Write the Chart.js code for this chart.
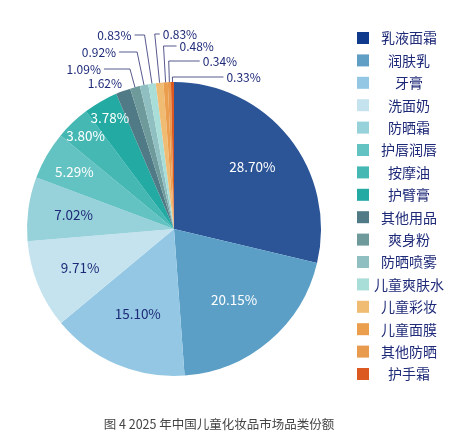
<!DOCTYPE html>
<html><head><meta charset="utf-8">
<script src="https://cdn.jsdelivr.net/npm/chart.js@4"></script>
<style>html,body{margin:0;padding:0;background:#fff;}canvas{display:block;}</style>
</head><body>
<canvas id="c" width="470" height="443"></canvas>
<script>
const categories = ['乳液面霜','润肤乳','牙膏','洗面奶','防晒霜','护唇润唇','按摩油','护臂膏','其他用品','爽身粉','防晒喷雾','儿童爽肤水','儿童彩妆','儿童面膜','其他防晒','护手霜'];
const shares = [28.70, 20.15, 15.10, 9.71, 7.02, 5.29, 3.80, 3.78, 1.62, 1.09, 0.92, 0.83, 0.83, 0.48, 0.34, 0.33];
const sliceColors = ['#2c5598','#5b9fc7','#93c7e4','#c5e3ee','#97d1da','#63c2c2','#45b8b4','#22aaa3','#4f7a86','#6f9a9c','#8fbfc0','#a9ddd8','#f0bb72','#ec9e4f','#e89a4f','#dc5a22'];
const legendColors = ['#103a8c','#5f9fc6','#93c7e4','#c5e3ee','#97d1da','#63c2c2','#45b8b4','#22aaa3','#4f7a86','#6f9a9c','#8fbfc0','#a9ddd8','#f0bb72','#ec9e4f','#e89a4f','#dc5a22'];
const chartTitle = '图 4 2025 年中国儿童化妆品市场品类份额';

const FONT = '"Noto Sans CJK SC","Noto Sans",sans-serif';
const NAVY = '#1e2a78';
const darkInside = new Set([2,3,4]);
// callout styling for small slices: rise = px above the pie top, len = horizontal leader length, side -1 left / 1 right
const callouts = {
  8:{rise:-1,len:0,side:-1,noLine:true},
  9:{rise:13,len:26,side:-1},
  10:{rise:30,len:18,side:-1},
  11:{rise:47,len:10,side:-1},
  12:{rise:48,len:5,side:1},
  13:{rise:36,len:13,side:1},
  14:{rise:21,len:31,side:1},
  15:{rise:5,len:51,side:1}
};

function insideFraction(v){
  if (v >= 25) return 0.68;
  if (v >= 10) return 0.63;
  if (v >= 7) return 0.69;
  return 0.68 + (7 - v)*0.06;
}

const labelPlugin = {
  id:'labels',
  afterDatasetsDraw(chart){
    const ctx = chart.ctx;
    const meta = chart.getDatasetMeta(0);
    ctx.save();
    meta.data.forEach((arc,i)=>{
      const v = shares[i];
      const mid = (arc.startAngle+arc.endAngle)/2;
      const R = arc.outerRadius, cx = arc.x, cy = arc.y;
      const txt = v.toFixed(2)+'%';
      if (!callouts[i]) {
        const f = insideFraction(v);
        ctx.font = '13.5px '+FONT;
        ctx.fillStyle = darkInside.has(i) ? NAVY : '#ffffff';
        ctx.textAlign = 'center'; ctx.textBaseline = 'middle';
        ctx.fillText(txt, cx + Math.cos(mid)*R*f, cy + Math.sin(mid)*R*f);
      } else {
        const c = callouts[i];
        const ax = cx + Math.cos(mid)*R, ay = cy + Math.sin(mid)*R;
        const ly = cy - R - c.rise;
        const t = (ly - cy)/Math.sin(mid);
        const ex = cx + Math.cos(mid)*t;
        const hx = ex + c.side*c.len;
        if (!c.noLine) {
          ctx.strokeStyle = '#2b2f6e'; ctx.lineWidth = 0.8;
          ctx.beginPath(); ctx.moveTo(ax,ay); ctx.lineTo(ex,ly); ctx.lineTo(hx,ly); ctx.stroke();
        }
        ctx.font = '12px '+FONT;
        ctx.fillStyle = NAVY;
        ctx.textBaseline = 'middle';
        ctx.textAlign = c.side < 0 ? 'right' : 'left';
        const tx = c.noLine ? ax - 1 : hx + c.side*3;
        ctx.fillText(txt, tx, ly);
      }
    });
    ctx.restore();
  },
  afterDraw(chart){
    const ctx = chart.ctx;
    ctx.save();
    // legend
    categories.forEach((name,i)=>{
      const y = 38 + i*22.4;
      ctx.fillStyle = legendColors[i];
      ctx.fillRect(357, y-6, 12, 12);
      ctx.font = '14px '+FONT;
      ctx.fillStyle = NAVY;
      ctx.textAlign = 'center'; ctx.textBaseline = 'middle';
      ctx.fillText(name, 409, y);
    });
    // caption
    ctx.font = '12.5px '+FONT;
    ctx.fillStyle = '#444444';
    ctx.textAlign = 'center'; ctx.textBaseline = 'middle';
    ctx.fillText(chartTitle, 219, 424);
    ctx.restore();
  }
};

new Chart(document.getElementById('c'), {
  type:'pie',
  data:{ labels:categories, datasets:[{ data:shares, backgroundColor:sliceColors, borderWidth:0 }] },
  options:{
    responsive:false, animation:false,
    layout:{ padding:{ left:27, right:149, top:82, bottom:67 } },
    plugins:{ legend:{display:false}, tooltip:{enabled:false} }
  },
  plugins:[labelPlugin]
});
</script>
</body></html>
